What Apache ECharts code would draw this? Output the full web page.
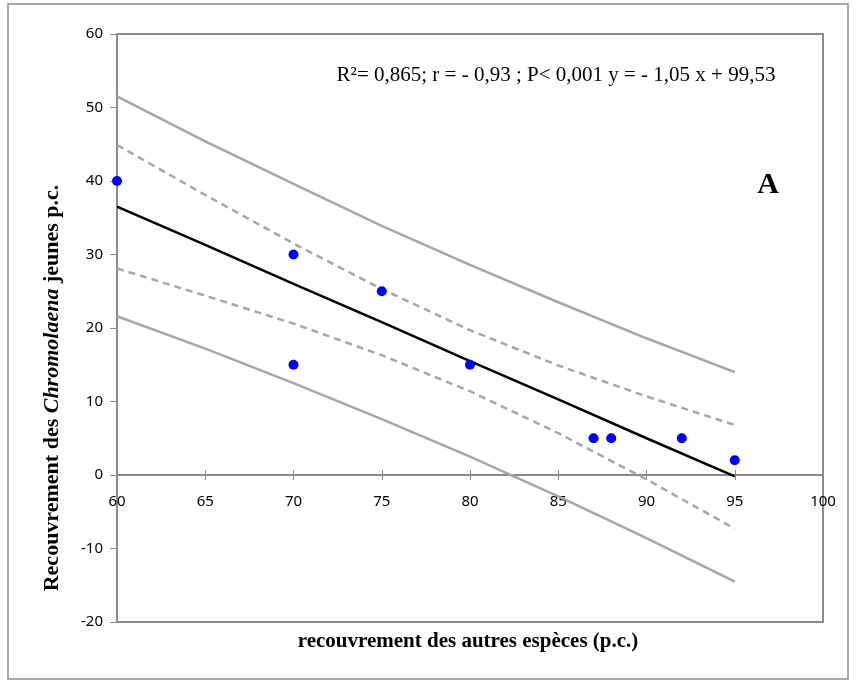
<!DOCTYPE html>
<html>
<head>
<meta charset="utf-8">
<script src="https://cdn.jsdelivr.net/npm/echarts@6/dist/echarts.min.js"></script>
<style>
  html, body { margin: 0; padding: 0; background: #fff; }
  #chart { width: 856px; height: 684px; }
</style>
</head>
<body>
<div id="chart"></div>
<script>
// observed points
const obsX = [60, 70, 70, 75, 80, 87, 88, 92, 95];
const obsY = [40, 30, 15, 25, 15, 5, 5, 5, 2];

const bandX = [60, 65, 70, 75, 80, 85, 90, 95];
const fitY = [36.5, 31.3, 26.0, 20.8, 15.5, 10.3, 5.0, -0.2];
const ciUpper = [44.9, 38.1, 31.5, 25.3, 19.7, 14.9, 10.7, 6.8];
const ciLower = [28.1, 24.4, 20.6, 16.3, 11.4, 5.7, -0.6, -7.3];
const piUpper = [51.5, 45.4, 39.6, 33.9, 28.6, 23.5, 18.6, 14.0];
const piLower = [21.6, 17.2, 12.5, 7.6, 2.5, -2.9, -8.6, -14.5];

const statsText = "R²= 0,865; r = - 0,93 ; P< 0,001 y = - 1,05 x + 99,53";

const pairs = (xs, ys) => xs.map((x, i) => [x, ys[i]]);

const axisGray = "#8a8a8a";
const bandGray = "#a6a6a6";
const tickFont = { color: "#000", fontSize: 15, fontFamily: "Noto Sans" };
// x axis sits on y = 0, 147px above the grid bottom
const zeroOffset = -147;

function lineSeries(name, ys, color, type) {
  return {
    name,
    type: "line",
    data: pairs(bandX, ys),
    symbol: "none",
    smooth: false,
    silent: true,
    lineStyle: { color, width: 2.5, type },
    z: 2,
  };
}

const chart = echarts.init(document.getElementById("chart"));

chart.setOption({
  animation: false,
  backgroundColor: "#fff",
  grid: {
    left: 117, right: 33, top: 34, bottom: 62,
    show: true, borderColor: axisGray, borderWidth: 2,
  },
  xAxis: [
    {
      type: "value", min: 60, max: 100, interval: 5,
      position: "bottom", offset: zeroOffset,
      axisLine: { onZero: false, lineStyle: { color: axisGray, width: 2 } },
      axisTick: { show: true, length: 5, lineStyle: { color: axisGray, width: 1 } },
      axisLabel: { ...tickFont, margin: 19 },
      splitLine: { show: false },
    },
    {
      type: "value", min: 60, max: 100, interval: 5,
      position: "bottom", offset: zeroOffset,
      axisLine: { onZero: false, show: false },
      axisTick: { show: true, inside: true, length: 5, lineStyle: { color: axisGray, width: 1 } },
      axisLabel: { show: false },
      splitLine: { show: false },
    },
  ],
  yAxis: {
    type: "value", min: -20, max: 60, interval: 10,
    axisLine: { show: true, lineStyle: { color: axisGray, width: 2 } },
    axisTick: { show: true, length: 7, lineStyle: { color: axisGray, width: 1 } },
    axisLabel: { ...tickFont, margin: 14 },
    splitLine: { show: false },
  },
  series: [
    lineSeries("piUpper", piUpper, bandGray, "solid"),
    lineSeries("piLower", piLower, bandGray, "solid"),
    lineSeries("ciUpper", ciUpper, bandGray, [7, 5]),
    lineSeries("ciLower", ciLower, bandGray, [7, 5]),
    lineSeries("fit", fitY, "#000", "solid"),
    {
      name: "obs",
      type: "scatter",
      data: pairs(obsX, obsY),
      symbol: "circle",
      symbolSize: 10,
      itemStyle: { color: "#0000ff", opacity: 1 },
      z: 3,
    },
  ],
  graphic: [
    {
      type: "rect",
      shape: { x: 8, y: 4, width: 840, height: 675 },
      style: { fill: "none", stroke: "#8c8c8c", lineWidth: 1.5 },
      silent: true, z: -1,
    },
    {
      type: "text",
      x: 556, y: 75,
      style: {
        text: statsText,
        font: "21px 'Liberation Serif'",
        fill: "#000",
        align: "center", verticalAlign: "middle",
      },
    },
    {
      type: "text",
      x: 768, y: 185,
      style: {
        text: "A",
        font: "bold 30px 'Liberation Serif'",
        fill: "#000",
        align: "center", verticalAlign: "middle",
      },
    },
    {
      type: "text",
      x: 468, y: 642,
      style: {
        text: "recouvrement des autres espèces (p.c.)",
        font: "bold 21px 'Liberation Serif'",
        fill: "#000",
        align: "center", verticalAlign: "middle",
      },
    },
    {
      type: "text",
      x: 52, y: 388,
      rotation: Math.PI / 2,
      style: {
        text: "{b|Recouvrement des }{i|Chromolaena}{b| jeunes p.c.}",
        rich: {
          b: { font: "bold 22px 'Liberation Serif'", fill: "#000" },
          i: { font: "bold italic 22px 'Liberation Serif'", fill: "#000" },
        },
        align: "center", verticalAlign: "middle",
      },
    },
  ],
});
</script>
</body>
</html>
